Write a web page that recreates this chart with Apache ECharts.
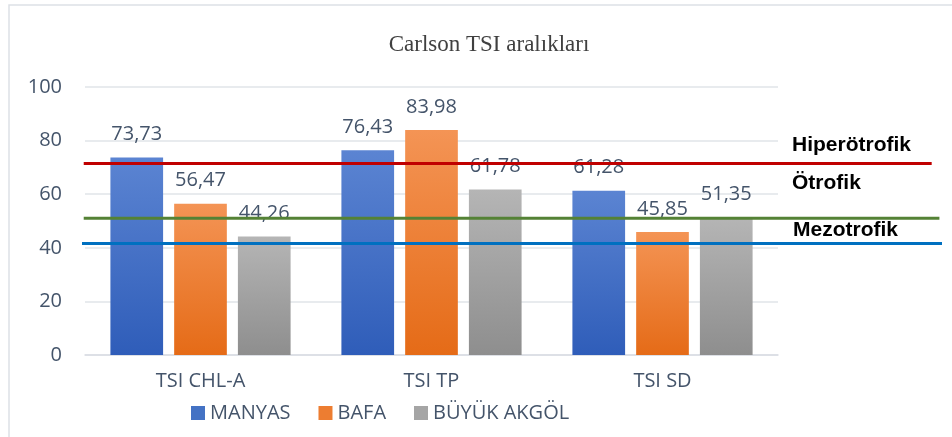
<!DOCTYPE html>
<html>
<head>
<meta charset="utf-8">
<script src="https://cdn.jsdelivr.net/npm/echarts@6/dist/echarts.min.js"></script>
<style>html,body{margin:0;padding:0;background:#fff}#c{width:952px;height:437px}</style>
</head>
<body>
<div id="c"></div>
<script>
const categories = ['TSI CHL-A', 'TSI TP', 'TSI SD'];
const manyas = [73.73, 76.43, 61.28];
const bafa = [56.47, 83.98, 45.85];
const buyukAkgol = [44.26, 61.78, 51.35];
const seriesNames = ['MANYAS', 'BAFA', 'BÜYÜK AKGÖL'];
const yTicks = [0, 20, 40, 60, 80, 100];
const thresholdNames = ['Hiperötrofik', 'Ötrofik', 'Mezotrofik'];
const thresholdValues = [71.5, 51.0, 41.6];
const thresholdSpans = [[0.002, 0.988], [0.002, 0.997], [0, 1]];

const fontUI = '"Open Sans", "Liberation Sans", sans-serif';
const txtColor = '#44546A';

function grad(top, bottom) {
  return new echarts.graphic.LinearGradient(0, 0, 0, 1, [
    {offset: 0, color: top}, {offset: 1, color: bottom}
  ]);
}
const barColors = [grad('#5B84D2', '#2F5DB9'), grad('#F49455', '#E56B17'), grad('#B5B5B5', '#8E8E8E')];
const legendColors = ['#4472C4', '#ED7D31', '#A5A5A5'];
const lineColors = ['#C00000', '#548235', '#0070C0'];

const chart = echarts.init(document.getElementById('c'), null, {renderer: 'canvas'});

const barSeries = [manyas, bafa, buyukAkgol].map((d, i) => ({
  name: seriesNames[i],
  type: 'bar',
  xAxisIndex: 0, yAxisIndex: 0,
  data: d,
  barGap: '21%',
  barCategoryGap: '22%',
  itemStyle: {color: barColors[i]},
  label: {
    show: true, position: 'top', distance: 13,
    color: txtColor, fontFamily: fontUI, fontSize: 20,
    formatter: p => p.value.toFixed(2).replace('.', ',')
  },
  z: 2
}));

const lineSeries = thresholdValues.map((v, i) => ({
  name: thresholdNames[i],
  type: 'line',
  xAxisIndex: 1, yAxisIndex: 1,
  data: [[thresholdSpans[i][0], v], [thresholdSpans[i][1], v]],
  symbol: 'none',
  lineStyle: {color: lineColors[i], width: 3},
  silent: true,
  z: 5
}));

const boldFont = 'bold 21px "Liberation Sans", sans-serif';

chart.setOption({
  animation: false,
  title: {
    text: 'Carlson TSI aralıkları',
    left: 484, top: 28, textAlign: 'center',
    textStyle: {fontFamily: '"Liberation Serif", "DejaVu Serif", serif', fontWeight: 'normal', fontSize: 23, color: '#404040'}
  },
  legend: {
    data: seriesNames.map((n, i) => ({name: n, itemStyle: {color: legendColors[i]}})),
    left: 186, top: 398,
    itemWidth: 14, itemHeight: 14, itemGap: 28,
    icon: 'rect',
    textStyle: {fontFamily: fontUI, fontSize: 20, color: txtColor, padding: [0, 0, 0, 0]}
  },
  grid: [
    {left: 85, right: 174, top: 87, bottom: 82},
    {left: 82, right: 10, top: 87, bottom: 82}
  ],
  xAxis: [
    {
      type: 'category', data: categories, gridIndex: 0,
      axisTick: {show: false},
      axisLine: {show: true, lineStyle: {color: '#D9DDE3', width: 1.5}},
      axisLabel: {color: txtColor, fontFamily: fontUI, fontSize: 20, margin: 16}
    },
    {type: 'value', gridIndex: 1, min: 0, max: 1, show: false}
  ],
  yAxis: [
    {
      type: 'value', gridIndex: 0, min: yTicks[0], max: yTicks[yTicks.length - 1], interval: 20,
      axisLine: {show: false}, axisTick: {show: false},
      axisLabel: {color: txtColor, fontFamily: fontUI, fontSize: 20, margin: 23},
      splitLine: {lineStyle: {color: '#E1E4E9', width: 1.5}}
    },
    {type: 'value', gridIndex: 1, min: yTicks[0], max: yTicks[yTicks.length - 1], show: false}
  ],
  graphic: [
    {type: 'rect', shape: {x: 9, y: 5, width: 960, height: 450}, style: {fill: 'none', stroke: '#DDE1E6', lineWidth: 1.5}, silent: true, z: -10},
    {type: 'text', left: 792, top: 135, style: {text: thresholdNames[0], font: boldFont, fill: '#000'}},
    {type: 'text', left: 792, top: 173, style: {text: thresholdNames[1], font: boldFont, fill: '#000'}},
    {type: 'text', left: 793, top: 220, style: {text: thresholdNames[2], font: boldFont, fill: '#000'}}
  ],
  series: barSeries.concat(lineSeries)
});
</script>
</body>
</html>
